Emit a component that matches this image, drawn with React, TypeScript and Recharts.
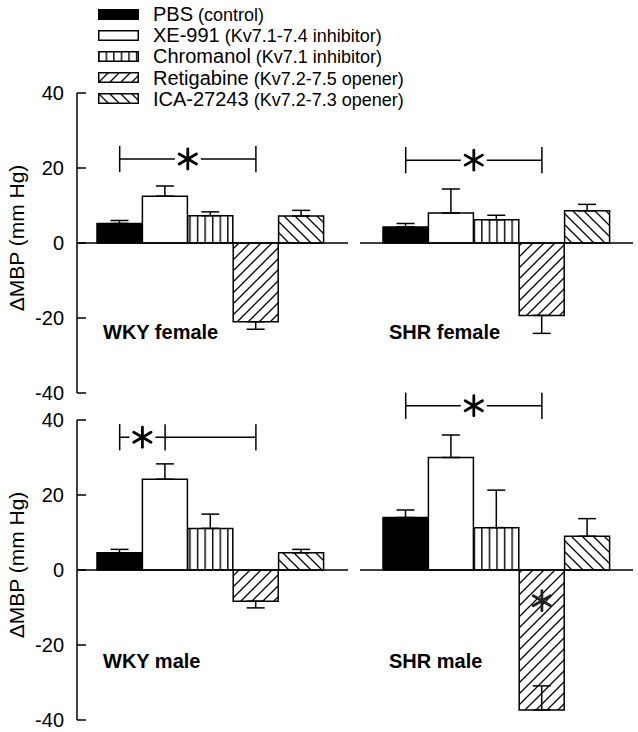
import React from "react";
import { Bar, BarChart, Cell, ErrorBar, ReferenceDot, ReferenceLine, XAxis, YAxis } from "recharts";

const FONT = "'Liberation Sans', Arial, sans-serif";

const treatments = ["PBS", "XE-991", "Chromanol", "Retigabine", "ICA-27243"];
const treatmentNotes = ["(control)", "(Kv7.1-7.4 inhibitor)", "(Kv7.1 inhibitor)", "(Kv7.2-7.5 opener)", "(Kv7.2-7.3 opener)"];
const fills = ["#000", "#fff", "url(#hatch-vert)", "url(#hatch-fwd)", "url(#hatch-back)"];

const yTicks = [-40, -20, 0, 20, 40];

// mean change in MBP and SEM, per treatment
const wkyFemaleMean = [5.2, 12.5, 7.3, -21.0, 7.2];
const wkyFemaleSem = [0.8, 2.7, 1.0, 2.0, 1.5];
const shrFemaleMean = [4.3, 8.0, 6.2, -19.3, 8.6];
const shrFemaleSem = [0.9, 6.4, 1.2, 4.8, 1.7];
const wkyMaleMean = [4.6, 24.2, 11.1, -8.3, 4.6];
const wkyMaleSem = [0.9, 4.1, 3.8, 1.8, 0.9];
const shrMaleMean = [14.0, 30.0, 11.3, -37.3, 9.0];
const shrMaleSem = [2.0, 6.0, 10.0, 6.4, 4.7];

// significance brackets: height, treatments marked by ticks, star on first segment
const wkyFemaleBracket = { y: 22.4, marks: ["PBS", "Retigabine"] };
const shrFemaleBracket = { y: 22.1, marks: ["PBS", "Retigabine"] };
const wkyMaleBracket = { y: 35.4, marks: ["PBS", "XE-991", "Retigabine"] };
const shrMaleBracket = { y: 43.8, marks: ["PBS", "Retigabine"] };

function Star({ cx, cy, bg, color = "#000" }: { cx: number; cy: number; bg?: boolean; color?: string }) {
  const r = 10;
  return (
    <g>
      {bg && <rect x={cx - 13} y={cy - 11} width={26} height={22} fill="#fff" />}
      {[90, 30, 150].map((a) => {
        const dx = Math.cos((a * Math.PI) / 180) * r;
        const dy = Math.sin((a * Math.PI) / 180) * r;
        return (
          <line key={a} x1={cx - dx} y1={cy - dy} x2={cx + dx} y2={cy + dy} stroke={color} strokeWidth={2.8} strokeLinecap="round" />
        );
      })}
    </g>
  );
}

const StarLabel = (props: any) => {
  const vb = props.viewBox || {};
  return <Star cx={vb.x + (vb.width || 0) / 2} cy={vb.y + (vb.height || 0) / 2} bg />;
};

const AxisTitle = (props: any) => {
  const vb = props.viewBox || {};
  const cx = vb.x + 16;
  const cy = vb.y + vb.height / 2 - 5;
  return (
    <text x={cx} y={cy} transform={`rotate(-90, ${cx}, ${cy})`} textAnchor="middle" dominantBaseline="central" fontSize={21} fontFamily={FONT} fill="#000">
      ΔMBP (mm Hg)
    </text>
  );
};

type PanelProps = {
  mean: number[];
  sem: number[];
  bracket: { y: number; marks: string[] };
  inward?: number;
  innerStar?: number;
  axis: boolean;
  left: number;
  top: number;
  width: number;
  height: number;
  padL: number;
  padR: number;
};

function Panel({ mean, sem, bracket, inward, innerStar, axis, left, top, width, height, padL, padR }: PanelProps) {
  const data = treatments.map((name, i) => {
    const up = mean[i] >= 0 ? i !== inward : i === inward;
    return { name, value: mean[i], err: up ? [0, sem[i]] : [sem[i], 0] };
  });
  const { y, marks } = bracket;
  return (
    <div style={{ position: "absolute", left, top }}>
      <BarChart width={width} height={height} data={data} margin={{ top: 40, right: 0, bottom: height - 340, left: 0 }} barCategoryGap={0} barGap={0}>
        <XAxis dataKey="name" hide padding={{ left: padL, right: padR }} />
        <YAxis
          domain={[-40, 40]}
          ticks={yTicks}
          hide={!axis}
          width={77}
          axisLine={{ stroke: "#000", strokeWidth: 1.5 }}
          tickLine={{ stroke: "#000", strokeWidth: 1.5 }}
          tickSize={-9}
          tickMargin={22}
          tick={{ fontSize: 20, fill: "#000", fontFamily: FONT }}
          label={<AxisTitle />}
        />
        <Bar dataKey="value" stroke="#000" strokeWidth={1.5} isAnimationActive={false}>
          {data.map((d, i) => (
            <Cell key={d.name} fill={fills[i]} />
          ))}
          <ErrorBar dataKey="err" width={9} stroke="#000" strokeWidth={1.5} />
        </Bar>
        <ReferenceLine y={0} stroke="#000" strokeWidth={1.5} />
        {marks.slice(1).map((m, i) => (
          <ReferenceLine
            key={"seg" + m}
            segment={[{ x: marks[i], y }, { x: m, y }]}
            stroke="#000"
            strokeWidth={1.5}
            ifOverflow="visible"
            label={i === 0 ? <StarLabel /> : undefined}
          />
        ))}
        {marks.map((m) => (
          <ReferenceLine
            key={"tick" + m}
            segment={[{ x: m, y: y - 3.5 }, { x: m, y: y + 3.5 }]}
            stroke="#000"
            strokeWidth={1.5}
            ifOverflow="visible"
          />
        ))}
        {innerStar !== undefined && (
          <ReferenceDot
            x="Retigabine"
            y={innerStar}
            r={0}
            shape={(p: any) => <Star cx={p.cx} cy={p.cy} color="#222" />}
          />
        )}
      </BarChart>
    </div>
  );
}

const titleStyle = { fontSize: 20, fontWeight: 700, fontFamily: FONT, fill: "#000" } as const;

export default function App() {
  return (
    <div style={{ position: "absolute", left: 0, top: 0, width: 638, height: 732, overflow: "hidden", background: "#fff", fontFamily: FONT, color: "#000" }}>
      <svg width={0} height={0} style={{ position: "absolute" }}>
        <defs>
          <pattern id="hatch-vert" patternUnits="userSpaceOnUse" width={7.57} height={10}>
            <rect width={7.57} height={10} fill="#fff" />
            <line x1={0.75} y1={0} x2={0.75} y2={10} stroke="#000" strokeWidth={1.4} />
          </pattern>
          <pattern id="hatch-fwd" patternUnits="userSpaceOnUse" width={11} height={11}>
            <rect width={11} height={11} fill="#fff" />
            <path d="M0,11 L11,0 M-2,2 L2,-2 M9,13 L13,9" stroke="#000" strokeWidth={1.3} />
          </pattern>
          <pattern id="hatch-back" patternUnits="userSpaceOnUse" width={11} height={11}>
            <rect width={11} height={11} fill="#fff" />
            <path d="M0,0 L11,11 M-2,9 L2,13 M9,-2 L13,2" stroke="#000" strokeWidth={1.3} />
          </pattern>
        </defs>
      </svg>

      <div style={{ position: "absolute", left: 98, top: 3.5 }}>
        {treatments.map((t, i) => (
          <div key={t} style={{ display: "flex", alignItems: "center", height: 21.2 }}>
            <svg width={41} height={11}>
              <rect x={0.75} y={0.75} width={39.5} height={9.5} fill={fills[i]} stroke="#000" strokeWidth={1.5} />
            </svg>
            <span style={{ marginLeft: 14, whiteSpace: "nowrap", lineHeight: 1 }}>
              <span style={{ fontSize: 20 }}>{t}</span>
              <span style={{ fontSize: 18 }}> {treatmentNotes[i]}</span>
            </span>
          </div>
        ))}
      </div>

      <Panel mean={wkyFemaleMean} sem={wkyFemaleSem} bracket={wkyFemaleBracket} axis left={0} top={53} width={348} height={360} padL={20} padR={24} />
      <Panel mean={shrFemaleMean} sem={shrFemaleSem} bracket={shrFemaleBracket} axis={false} left={360} top={53} width={273} height={360} padL={23} padR={23} />
      <Panel mean={wkyMaleMean} sem={wkyMaleSem} bracket={wkyMaleBracket} axis left={0} top={380} width={348} height={352} padL={20} padR={24} />
      <Panel mean={shrMaleMean} sem={shrMaleSem} bracket={shrMaleBracket} inward={3} innerStar={-8.2} axis={false} left={360} top={380} width={273} height={352} padL={23} padR={23} />

      <svg width={638} height={732} style={{ position: "absolute", left: 0, top: 0, pointerEvents: "none" }}>
        <text x={103} y={339} {...titleStyle}>WKY female</text>
        <text x={389} y={339} {...titleStyle}>SHR female</text>
        <text x={103} y={668} {...titleStyle}>WKY male</text>
        <text x={389} y={668} {...titleStyle}>SHR male</text>
      </svg>
    </div>
  );
}
